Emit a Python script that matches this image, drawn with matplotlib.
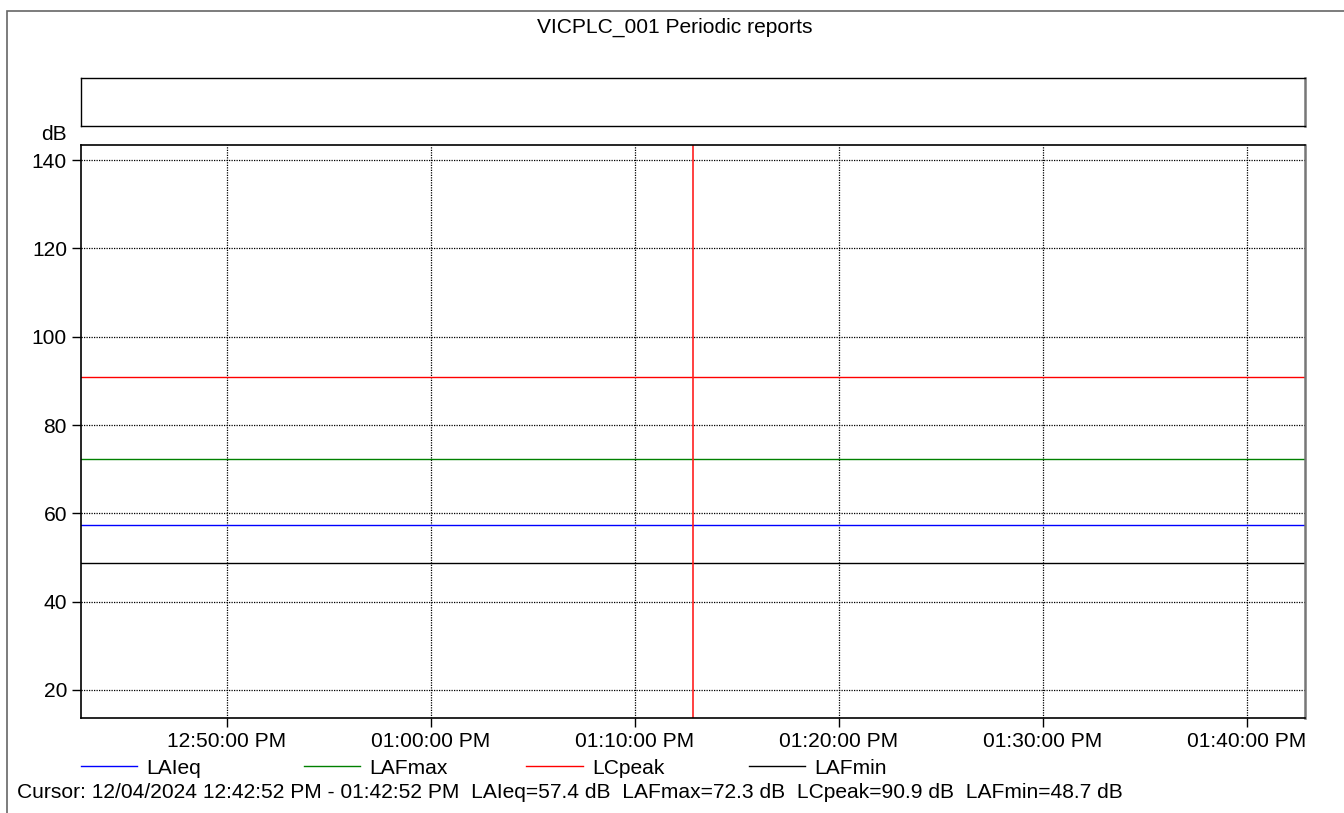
#python3
import matplotlib
matplotlib.use("Agg")
import matplotlib.pyplot as plt
import matplotlib.dates as mdates
from matplotlib.patches import Rectangle
import numpy as np

plt.rcParams['font.family'] = ['Liberation Sans', 'DejaVu Sans']

# data: one periodic report spanning the hour
times = np.array(['2024-12-04T12:42:52', '2024-12-04T13:42:52'], dtype='datetime64[s]')
cursor_time = np.datetime64('2024-12-04T13:12:52')
names = ['LAIeq', 'LAFmax', 'LCpeak', 'LAFmin']
levels = [57.4, 72.3, 90.9, 48.7]
colors = ['#0000ff', '#008000', '#ff0000', '#000000']
yticks = [20, 40, 60, 80, 100, 120, 140]
xticks = np.array(['2024-12-04T12:50:00', '2024-12-04T13:00:00', '2024-12-04T13:10:00',
                   '2024-12-04T13:20:00', '2024-12-04T13:30:00', '2024-12-04T13:40:00'],
                  dtype='datetime64[s]')

W, H = 1344, 813
fs = 15.1
fig = plt.figure(figsize=(W / 100, H / 100), dpi=100)

# outer frame
fig.patches.append(Rectangle((7 / W, -0.1), 1.2, 1 - 11 / H + 0.1, transform=fig.transFigure,
                             fill=False, edgecolor='#666666', linewidth=1.2))

fig.text(675 / W, 1 - 27 / H, 'VICPLC_001 Periodic reports', ha='center', va='center', fontsize=fs)

# empty box above the plot
box = fig.add_axes([81 / W, 1 - 126 / H, 1224 / W, 48 / H])
box.set_xticks([])
box.set_yticks([])
for s in box.spines.values():
    s.set_linewidth(1.0)
box.spines['right'].set_color('#777777')
box.spines['right'].set_linewidth(1.8)

ax = fig.add_axes([81 / W, 1 - 718 / H, 1224 / W, 573 / H])
lines = []
for name, lev, col in zip(names, levels, colors):
    ln, = ax.plot(times, [lev, lev], color=col, linewidth=1.0, label=name)
    lines.append(ln)
ax.axvline(cursor_time, color='#ff2020', linewidth=1.2)

ax.set_xlim(times[0], times[-1])
ax.set_ylim(13.66, 143.4)
ax.set_yticks(yticks)
ax.set_xticks(xticks)
ax.xaxis.set_major_formatter(mdates.DateFormatter('%I:%M:%S %p'))
ax.grid(True, color='black', linestyle=(0, (1, 1)), linewidth=0.9)
ax.tick_params(axis='both', labelsize=fs, length=6.5, width=1.0, pad=3.6, colors='black')
for s in ax.spines.values():
    s.set_linewidth(1.2)
ax.spines['right'].set_color('#777777')
ax.spines['right'].set_linewidth(1.8)
ax.text(67 / W, 1 - 134 / H, 'dB', transform=fig.transFigure, ha='right', va='center', fontsize=fs)

# legend row, one entry per slot
for i, ln in enumerate(lines):
    fig.legend([ln], [ln.get_label()], loc='center left',
               bbox_to_anchor=((81 + i * 222.7) / W, 1 - 768 / H),
               frameon=False, fontsize=fs, handlelength=2.68, handletextpad=0.45,
               borderpad=0, borderaxespad=0)

cursor_txt = 'Cursor: 12/04/2024 12:42:52 PM - 01:42:52 PM  ' + '  '.join(
    f'{n}={v:.1f} dB' for n, v in zip(names, levels))
fig.text(17 / W, 1 - 792 / H, cursor_txt, ha='left', va='center', fontsize=fs)

fig.savefig('out.png', dpi=100)
